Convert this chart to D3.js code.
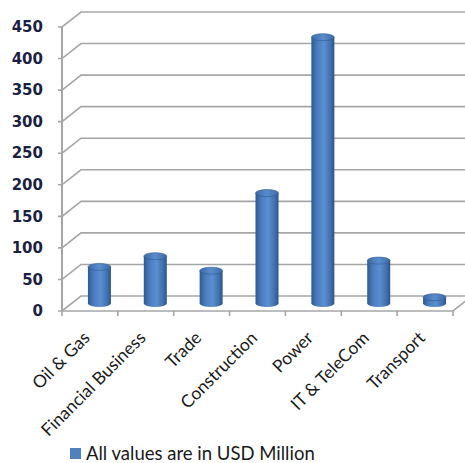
<!DOCTYPE html>
<html><head><meta charset="utf-8">
<script src="https://cdn.jsdelivr.net/npm/d3@7"></script>
<style>body{margin:0;background:#fff}svg{display:block}</style>
</head><body>
<svg id="c" width="465" height="463"></svg>
<script>
const categories = ["Oil & Gas","Financial Business","Trade","Construction","Power","IT & TeleCom","Transport"];
const values = [58, 75, 52, 175, 422, 68, 10];
const yTicks = [0,50,100,150,200,250,300,350,400,450];
const legendLabel = "All values are in USD Million";

const svg = d3.select("#c");
const x0 = 62, x1 = 453, yBase = 311, yTop = 27;
const dx = 19, dy = -15;
const y = d3.scaleLinear().domain([0,450]).range([yBase, yTop]);
const x = d3.scaleBand().domain(categories).range([x0, x1]);

const defs = svg.append("defs");
const g1 = defs.append("linearGradient").attr("id","cyl").attr("x1","0").attr("x2","1");
[["0%","#2d5a8e"],["25%","#4a7cbf"],["55%","#5b8fd0"],["85%","#3f6fab"],["100%","#2a5486"]]
  .forEach(([o,c])=>g1.append("stop").attr("offset",o).attr("stop-color",c));
const g2 = defs.append("linearGradient").attr("id","cap").attr("x1","0").attr("x2","1");
[["0%","#3d6aa6"],["50%","#5a8ccc"],["100%","#3d6aa6"]]
  .forEach(([o,c])=>g2.append("stop").attr("offset",o).attr("stop-color",c));

const grid = "#a6a6a6";
yTicks.forEach(t=>{
  const yy = y(t);
  svg.append("path").attr("d",`M${x0-4},${yy}H${x0}L${x0+dx},${yy+dy}H465`)
    .attr("fill","none").attr("stroke",grid).attr("stroke-width",1.6);
});
svg.append("line").attr("x1",x0).attr("x2",x0).attr("y1",yTop).attr("y2",yBase)
  .attr("stroke",grid).attr("stroke-width",2);
svg.append("path").attr("d",`M${x0},${yBase}H${x1}L${x1+dx},${yBase+dy}`)
  .attr("fill","none").attr("stroke",grid).attr("stroke-width",1.6);
categories.concat([null]).forEach((c,i)=>{
  const xx = x0 + i*x.step();
  svg.append("line").attr("x1",xx).attr("x2",xx).attr("y1",yBase).attr("y2",yBase+5)
    .attr("stroke",grid).attr("stroke-width",1.6);
});

svg.append("g").selectAll("text").data(yTicks).join("text")
  .attr("x",43).attr("y",d=>y(d)).attr("dy","0.35em").attr("text-anchor","end")
  .attr("font-family","DejaVu Sans").attr("font-weight","bold").attr("font-size",15)
  .attr("fill","#1c1f44").text(d=>d);

const bw = 23, ry = 3.5;
const bars = svg.append("g").selectAll("g").data(values).join("g");
bars.each(function(v,i){
  const cx = x(categories[i]) + x.bandwidth()/2 + dx/2;
  const b = yBase + dy/2;
  const t = y(v) + dy/2;
  const g = d3.select(this);
  g.append("path")
    .attr("d",`M${cx-bw/2},${t}V${b}A${bw/2},${ry} 0 0 0 ${cx+bw/2},${b}V${t}Z`)
    .attr("fill","url(#cyl)");
  g.append("ellipse").attr("cx",cx).attr("cy",t).attr("rx",bw/2).attr("ry",ry)
    .attr("fill","url(#cap)").attr("stroke","#2d5a8e").attr("stroke-width",0.6);
});

svg.append("g").selectAll("text").data(categories).join("text")
  .attr("transform",d=>`translate(${x(d)+x.bandwidth()/2+1},${339}) rotate(-45)`)
  .attr("text-anchor","end").attr("font-family","Lato").attr("font-size",17.5)
  .attr("fill","#1a1a1a").text(d=>d);

svg.append("rect").attr("x",70).attr("y",448).attr("width",11).attr("height",11).attr("fill","#4f81bd");
svg.append("text").attr("x",86).attr("y",454).attr("dy","0.35em")
  .attr("font-family","Lato").attr("font-size",18.5).attr("fill","#1a1a1a").text(legendLabel);
</script>
</body></html>
